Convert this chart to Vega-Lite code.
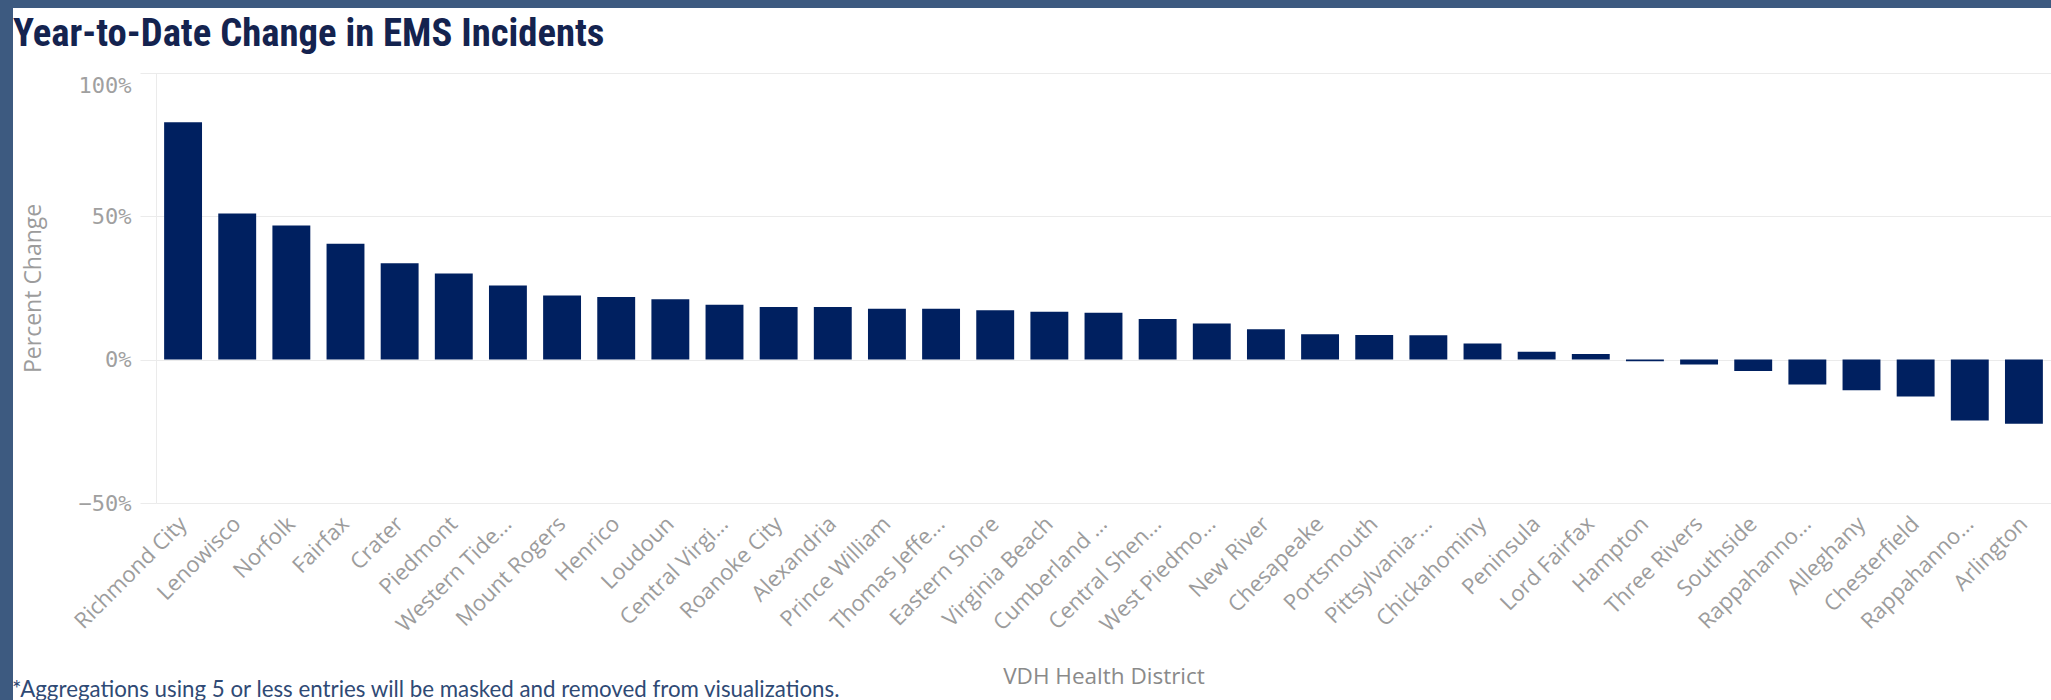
{
  "$schema": "https://vega.github.io/schema/vega-lite/v6.json",
  "padding": 0,
  "background": "white",
  "bounds": "flush",
  "spacing": 0,
  "config": {"view": {"stroke": null}},
  "vconcat": [
    {
      "width": 2051,
      "height": 8,
      "data": {"values": []},
      "mark": "point",
      "encoding": {},
      "view": {"fill": "#3d5a80", "stroke": null}
    },
    {
      "bounds": "flush",
      "spacing": 143,
      "hconcat": [
        {
          "width": 13,
          "height": 692,
          "data": {"values": []},
          "mark": "point",
          "encoding": {},
          "view": {"fill": "#3d5a80", "stroke": null},
          "title": {
            "text": "*Aggregations using 5 or less entries will be masked and removed from visualizations.",
            "orient": "bottom",
            "anchor": "start",
            "frame": "group",
            "baseline": "alphabetic",
            "offset": 0,
            "dy": -3,
            "dx": 12,
            "font": "Lato",
            "fontSize": 22.3,
            "fontWeight": "normal",
            "color": "#2f4a75"
          }
        },
        {
          "width": 1895,
          "height": 495,
          "data": {
            "values": [
              {"district": "Richmond City", "pct_change": 0.827},
              {"district": "Lenowisco", "pct_change": 0.509},
              {"district": "Norfolk", "pct_change": 0.467},
              {"district": "Fairfax", "pct_change": 0.404},
              {"district": "Crater", "pct_change": 0.336},
              {"district": "Piedmont", "pct_change": 0.300},
              {"district": "Western Tidewater", "pct_change": 0.258},
              {"district": "Mount Rogers", "pct_change": 0.223},
              {"district": "Henrico", "pct_change": 0.218},
              {"district": "Loudoun", "pct_change": 0.210},
              {"district": "Central Virginia", "pct_change": 0.191},
              {"district": "Roanoke City", "pct_change": 0.183},
              {"district": "Alexandria", "pct_change": 0.183},
              {"district": "Prince William", "pct_change": 0.177},
              {"district": "Thomas Jefferson", "pct_change": 0.177},
              {"district": "Eastern Shore", "pct_change": 0.172},
              {"district": "Virginia Beach", "pct_change": 0.167},
              {"district": "Cumberland Plateau", "pct_change": 0.163},
              {"district": "Central Shenandoah", "pct_change": 0.141},
              {"district": "West Piedmont", "pct_change": 0.126},
              {"district": "New River", "pct_change": 0.106},
              {"district": "Chesapeake", "pct_change": 0.088},
              {"district": "Portsmouth", "pct_change": 0.086},
              {"district": "Pittsylvania-Danville", "pct_change": 0.085},
              {"district": "Chickahominy", "pct_change": 0.056},
              {"district": "Peninsula", "pct_change": 0.027},
              {"district": "Lord Fairfax", "pct_change": 0.019},
              {"district": "Hampton", "pct_change": -0.006},
              {"district": "Three Rivers", "pct_change": -0.017},
              {"district": "Southside", "pct_change": -0.040},
              {"district": "Rappahannock", "pct_change": -0.087},
              {"district": "Alleghany", "pct_change": -0.107},
              {"district": "Chesterfield", "pct_change": -0.129},
              {"district": "Rappahannock Rapidan", "pct_change": -0.212},
              {"district": "Arlington", "pct_change": -0.224}
            ]
          },
          "title": {
            "text": "Year-to-Date Change in EMS Incidents",
            "orient": "top",
            "anchor": "start",
            "frame": "group",
            "baseline": "alphabetic",
            "offset": 8,
            "dx": -143,
            "dy": 85,
            "font": "Liberation Sans Narrow, Roboto Condensed, Roboto",
            "fontSize": 38.7,
            "fontWeight": "bold",
            "color": "#14234f"
          },
          "mark": {"type": "bar", "color": "#002060"},
          "encoding": {
            "x": {
              "field": "district",
              "type": "nominal",
              "sort": null,
              "scale": {"paddingInner": 0.3, "paddingOuter": 0.15},
              "axis": {
                "title": "VDH Health District",
                "titleFont": "Open Sans",
                "titleFontSize": 22.5,
                "titleFontWeight": "normal",
                "titleColor": "#8a8a8a",
                "titleY": 173,
                "titleBaseline": "middle",
                "labelAngle": -45,
                "labelAlign": "right",
                "labelBaseline": "middle",
                "labelFont": "Open Sans",
                "labelFontSize": 22,
                "labelColor": "#9c9c9c",
                "labelPadding": 17,
                "labelLimit": 300,
                "labelExpr": "datum.label == 'Western Tidewater' ? 'Western Tide...' : datum.label == 'Central Virginia' ? 'Central Virgi...' : datum.label == 'Thomas Jefferson' ? 'Thomas Jeffe...' : datum.label == 'Cumberland Plateau' ? 'Cumberland ...' : datum.label == 'Central Shenandoah' ? 'Central Shen...' : datum.label == 'West Piedmont' ? 'West Piedmo...' : datum.label == 'Pittsylvania-Danville' ? 'Pittsylvania-...' : datum.label == 'Rappahannock' ? 'Rappahanno...' : datum.label == 'Rappahannock Rapidan' ? 'Rappahanno...' : datum.label",
                "ticks": false,
                "domain": false,
                "grid": false
              }
            },
            "y": {
              "field": "pct_change",
              "type": "quantitative",
              "scale": {"domain": [-0.5, 1], "range": [495, 64.7], "nice": false, "zero": false},
              "axis": {
                "title": "Percent Change",
                "titleFont": "Open Sans",
                "titleFontSize": 23,
                "titleFontWeight": "normal",
                "titleColor": "#9c9c9c",
                "titleX": -123,
                "titleBaseline": "middle",
                "values": [-0.5, 0, 0.5, 1],
                "format": ".0%",
                "grid": true,
                "gridColor": "#ebebeb",
                "domainColor": "#ebebeb",
                "tickColor": "#ebebeb",
                "tickSize": 16,
                "labelPadding": 9,
                "labelOffset": {"condition": {"test": "datum.value >= 1", "value": 13}, "value": 0},
                "labelFont": "DejaVu Sans Mono",
                "labelFontSize": 22,
                "labelColor": "#a0a0a0"
              }
            }
          }
        }
      ]
    }
  ]
}
